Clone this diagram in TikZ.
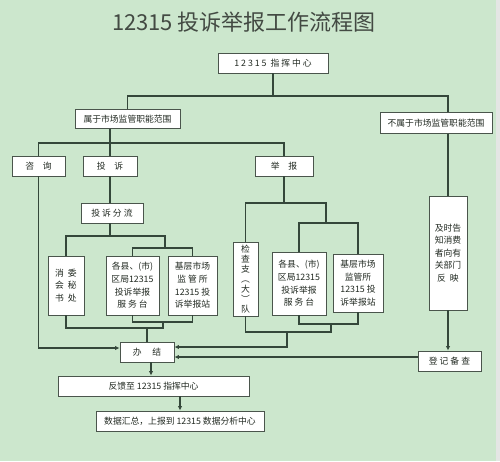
\documentclass[tikz,border=0pt]{standalone}
\usepackage{fontspec}
\setmainfont{Noto Sans CJK SC}
\usetikzlibrary{arrows.meta}
\definecolor{paper}{HTML}{CCE7CD}
\definecolor{edge}{HTML}{E4E6E4}
\definecolor{ink}{HTML}{222A22}
\definecolor{wire}{HTML}{34473A}
\definecolor{frame}{HTML}{4A554C}

\begin{document}
\begin{tikzpicture}[x=1pt,y=-1pt,
  every node/.style={text=ink,font=\fontsize{8.8}{12.6}\selectfont,inner sep=0pt},
  box/.style={draw=frame,fill=white,line width=.9pt,align=center},
  link/.style={draw=wire,line width=1.1pt},
  feed/.style={link,-{Latex[length=4.5pt,width=4.5pt]}}]

% Page: green sheet with a grey strip on the right edge.
\fill[paper] (0,0) rectangle (500,461);
\fill[edge] (496,0) rectangle (500,461);
\useasboundingbox (0,0) rectangle (500,461);

\node[font=\fontsize{22}{26}\selectfont,text=ink!85] (title) at (244,22)
  {12315 投诉举报工作流程图};

\node[box,minimum width=110,minimum height=20] (centre) at (273,63)
  {1 2 3 1 5 \ 指 挥 中 心};
\node[box,minimum width=105,minimum height=19] (inscope) at (127.5,119)
  {属于市场监管职能范围};
\node[box,minimum width=112,minimum height=21] (outscope) at (436,123)
  {不属于市场监管职能范围};

\node[box,minimum width=53,minimum height=20] (consult) at (38.5,166) {咨\quad 询};
\node[box,minimum width=54,minimum height=20] (complain) at (110,166) {投\quad 诉};
\node[box,minimum width=58,minimum height=20] (report) at (284,166) {举\quad 报};
\node[box,minimum width=62,minimum height=20] (sort) at (112,213) {投 诉 分 流};

% Complaint branch
\node[box,minimum width=36,minimum height=59] (council) at (66,285.5)
  {消\ \ 委\\会\ \ 秘\\书\ \ 处};
\node[box,minimum width=53,minimum height=59] (countyA) at (132.5,285.5)
  {各县、(市)\\区局12315\\投诉举报\\服\ 务\ 台};
\node[box,minimum width=49,minimum height=59] (stationA) at (192.5,285.5)
  {基层市场\\监\ 管\ 所\\12315 投\\诉举报站};

% Report branch
\node[box,minimum width=25,minimum height=74,
  font=\fontsize{8.8}{10}\selectfont] (inspect) at (245.5,279)
  {检\\查\\支\\︵\\大\\︶\\队};
\node[box,minimum width=54,minimum height=63] (countyB) at (299,283.5)
  {各县、(市)\\区局12315\\投诉举报\\服\ 务\ 台};
\node[box,minimum width=50,minimum height=58] (stationB) at (358,283)
  {基层市场\\监管所\\12315 投\\诉举报站};

% Out of scope branch
\node[box,minimum width=38,minimum height=114] (notify) at (448,253)
  {及时告\\知消费\\者向有\\关部门\\反\ \ 映};
\node[box,minimum width=63,minimum height=20] (record) at (449.5,361)
  {登 记 备 查};

\node[box,minimum width=54,minimum height=20] (done) at (147,352) {办\quad\ 结};
\node[box,minimum width=191,minimum height=20] (feedback) at (153.5,386)
  {反馈至 12315 指挥中心};
\node[box,minimum width=168,minimum height=20] (summary) at (180,421)
  {数据汇总，上报到 12315 数据分析中心};

% Junction points of the bus lines
\coordinate (top) at (273,96);
\coordinate (split) at (110,143);
\coordinate (sortA) at (165,236);
\coordinate (sortB) at (165,248);
\coordinate (joinA) at (163,322);
\coordinate (joinB) at (163,328);
\coordinate (repA) at (326,203);
\coordinate (repB) at (326,223);
\coordinate (backA) at (331,324);
\coordinate (backB) at (331,332);
\coordinate (backC) at (287,332);

\draw[link] (centre.south) -- (top);
\draw[link] (inscope.north) |- (top) -| (outscope.north -| notify.north);
\draw[link] (outscope.south -| notify.north) -- (notify.north);

\draw[link] (inscope.south -| complain.north) -- (complain.north);
\draw[link] (consult.north) |- (split) -| (report.north);
\draw[link] (complain.south) -- (sort.north -| complain.south);

\draw[link] (sort.south -| complain.south) -- (complain.south |- sortA);
\draw[link] (council.north) |- (sortA) -- (sortB);
\draw[link] (countyA.north) |- (sortB) -| (stationA.north);
\draw[link] (countyA.south) |- (joinA) -| (stationA.south);
\draw[link] (council.south) |- (joinB) -- (joinA);
\draw[link] (done.north |- joinB) -- (done.north);
\draw[feed] (consult.south) |- ([yshift=4pt]done.west);

\draw[link] (report.south) -- (report.south |- repA);
\draw[link] (inspect.north) |- (repA) -- (repB);
\draw[link] (countyB.north) |- (repB) -| (stationB.north);
\draw[link] (countyB.south) |- (backA) -| (stationB.south);
\draw[link] (inspect.south) |- (backB) -- (backA);
\draw[feed] (backC) |- ([yshift=5pt]done.east);

\draw[feed] (notify.south) -- (record.north -| notify.south);
\draw[feed] ([yshift=4pt]record.west) -- ([yshift=4pt]record.west -| done.east);

\draw[feed] ([xshift=4pt]done.south) -- ([xshift=4pt]done.south |- feedback.north);
\draw[feed] (feedback.south -| summary.north) -- (summary.north);
\end{tikzpicture}
\end{document}
